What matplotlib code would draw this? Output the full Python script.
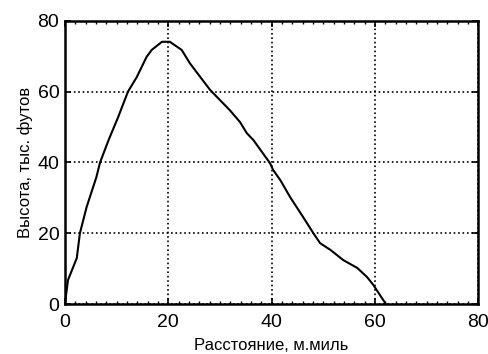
import matplotlib
matplotlib.use("Agg")
import matplotlib.pyplot as plt
from matplotlib.ticker import MultipleLocator

plt.rcParams['font.family'] = ['Liberation Sans', 'DejaVu Sans']

distance = [0, 0.6, 2.3, 2.9, 4.2, 6.1, 6.8, 8.5, 10.3, 12.2, 13.9, 15.8, 16.8, 18.8, 20.3,
            22.6, 24.2, 28.1, 31.9, 33.9, 35.2, 36.5, 39.7, 40.3, 41.7, 43.6, 46.1, 48.1,
            49.4, 51.4, 53.9, 56.6, 58.5, 59.7, 61.0, 62.0]
altitude = [0, 6.8, 13.0, 20.0, 27.4, 35.9, 40.0, 46.5, 52.8, 60.0, 64.1, 69.8, 71.8, 74.1, 74.1,
            71.8, 68.0, 60.5, 54.8, 51.4, 48.3, 46.3, 39.8, 37.9, 35.0, 30.2, 24.6, 20.0,
            17.2, 15.3, 12.4, 10.2, 7.6, 5.4, 2.5, 0.3]
ticks = [0, 20, 40, 60, 80]

fig = plt.figure(figsize=(4.88, 3.54), dpi=100)
ax = fig.add_axes([0.133, 0.141, 0.847, 0.8])
ax.plot(distance, altitude, color='black', lw=1.5)
ax.set_xlim(0, 80)
ax.set_ylim(0, 80)
ax.set_xticks(ticks)
ax.set_yticks(ticks)
ax.xaxis.set_minor_locator(MultipleLocator(2))
ax.grid(True, which='major', color='black', linestyle=':', linewidth=1.2)
ax.tick_params(which='major', direction='in', length=4, width=1.2, labelsize=14,
               top=True, right=True, pad=4)
ax.tick_params(axis='x', which='major', pad=7)
ax.tick_params(axis='x', which='minor', direction='in', length=2.5, width=1, top=True, bottom=True)
for s in ax.spines.values():
    s.set_linewidth(1.8)
ax.set_xlabel('Расстояние, м.миль', fontsize=12, labelpad=5)
ax.set_ylabel('Высота, тыс. футов', fontsize=12, labelpad=3)
fig.savefig('out.png', dpi=100)
